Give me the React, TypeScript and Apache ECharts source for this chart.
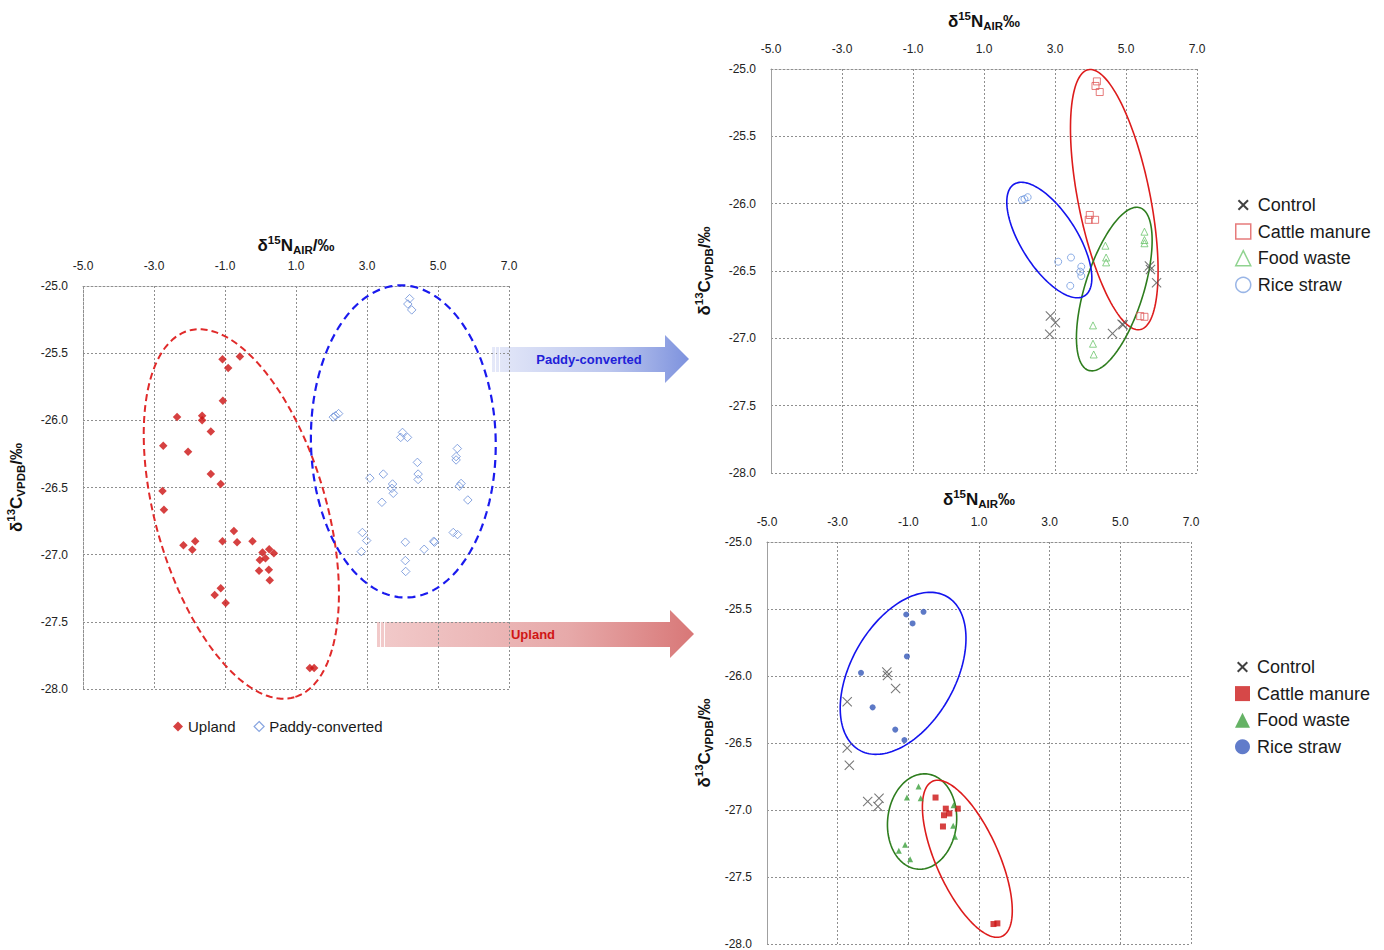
import React, { useEffect, useRef } from "react";
import * as echarts from "echarts";

const FONT = "'Liberation Sans', Arial, Helvetica, sans-serif";

// ---------- Left chart: all samples ----------
const uplandPoints: number[][] = [
  [-1.07, -25.545], [-0.58, -25.525], [-0.91, -25.61], [-1.06, -25.855], [-2.35, -25.976],
  [-1.645, -25.966], [-1.645, -26.0], [-1.4, -26.083], [-2.74, -26.19], [-2.04, -26.234],
  [-1.4, -26.4], [-1.12, -26.474], [-2.76, -26.526], [-2.72, -26.665], [-0.75, -26.823],
  [-2.17, -26.93], [-1.84, -26.9], [-1.92, -26.964], [-1.07, -26.9], [-0.66, -26.907],
  [-0.225, -26.9], [0.056, -26.984], [0.244, -26.96], [0.376, -26.99], [-0.02, -27.04],
  [0.14, -27.026], [-0.04, -27.12], [0.235, -27.113], [0.26, -27.19], [-1.12, -27.25],
  [-1.29, -27.3], [-0.98, -27.36], [1.39, -27.844], [1.51, -27.844],
];
const paddyPoints: number[][] = [
  [4.2, -25.094], [4.15, -25.134], [4.26, -25.178], [2.05, -25.976], [2.11, -25.966],
  [2.2, -25.95], [4.0, -26.09], [3.95, -26.127], [4.14, -26.127], [5.545, -26.21],
  [5.51, -26.27], [5.51, -26.295], [4.42, -26.313], [4.44, -26.4], [4.44, -26.44],
  [3.46, -26.4], [3.08, -26.43], [3.72, -26.474], [3.7, -26.506], [3.74, -26.543],
  [3.42, -26.61], [5.65, -26.47], [5.6, -26.49], [5.84, -26.593], [2.87, -26.835],
  [2.99, -26.895], [2.84, -26.977], [4.08, -26.907], [4.08, -27.044], [4.09, -27.125],
  [4.61, -26.96], [4.9, -26.907], [4.88, -26.9], [5.43, -26.835], [5.55, -26.85],
];

// ---------- Top right chart: paddy-converted by treatment ----------
const ctrlPaddy: number[][] = [
  [2.87, -26.835], [3.01, -26.885], [2.85, -26.97], [4.62, -26.964], [4.92, -26.9],
  [4.89, -26.895], [5.66, -26.463], [5.69, -26.488], [5.86, -26.587],
];
const manurePaddy: number[][] = [
  [4.18, -25.092], [4.14, -25.126], [4.26, -25.171], [3.98, -26.084], [3.95, -26.12],
  [4.13, -26.12], [5.4, -26.835], [5.52, -26.84],
];
const foodPaddy: number[][] = [
  [5.52, -26.208], [5.52, -26.27], [5.52, -26.294], [4.42, -26.312], [4.44, -26.4],
  [4.44, -26.436], [4.07, -26.904], [4.07, -27.04], [4.09, -27.12],
];
const strawPaddy: number[][] = [
  [2.07, -25.972], [2.14, -25.965], [2.23, -25.952], [3.09, -26.431], [3.45, -26.4],
  [3.74, -26.468], [3.71, -26.505], [3.74, -26.537], [3.43, -26.61],
];

// ---------- Bottom right chart: upland by treatment ----------
const ctrlUpland: number[][] = [
  [-1.61, -25.971], [-1.59, -25.996], [-1.36, -26.093], [-2.73, -26.192], [-2.73, -26.537],
  [-2.67, -26.666], [-2.15, -26.937], [-1.83, -26.912], [-1.86, -26.974],
];
const manureUpland: number[][] = [
  [-0.23, -26.907], [0.06, -26.99], [0.16, -27.026], [0.01, -27.039], [0.4, -26.99],
  [-0.02, -27.123], [1.41, -27.851], [1.52, -27.846],
];
const foodUpland: number[][] = [
  [-0.71, -26.825], [-1.04, -26.907], [-0.65, -26.912], [0.28, -26.964], [0.27, -27.118],
  [0.32, -27.2], [-1.09, -27.26], [-1.27, -27.304], [-0.95, -27.367],
];
const strawUpland: number[][] = [
  [-1.06, -25.541], [-0.57, -25.521], [-0.88, -25.608], [-1.04, -25.854], [-2.34, -25.976],
  [-2.01, -26.234], [-1.37, -26.4], [-1.11, -26.478],
];

// Ellipses in data units: [cx, cy, xCos, xSin, yCos, ySin]
// x(t) = cx + xCos*cos t + xSin*sin t ; y(t) = cy + yCos*cos t + ySin*sin t
const ellUpland = [-0.54, -26.697, 1.493, -2.309, -1.364, -0.176];
const ellPaddy = [4.023, -26.157, 2.603, -0.06, 0, 1.162];
const ellManureP = [4.67, -25.97, 0.73, -0.995, -0.965, -0.0525];
const ellFoodP = [4.67, -26.634, 0.7215, 0.785, 0.604, -0.0653];
const ellStrawP = [2.84, -26.27, 0.9955, -0.6665, -0.414, -0.1116];
const ellStrawU = [-1.148, -25.98, 1.2356, 1.2809, 0.5735, -0.1918];
const ellFoodU = [-0.611, -27.086, 0.98, 0, 0.024, 0.355];
const ellManureU = [0.67, -27.364, 0.983, -0.807, -0.5783, -0.0954];

const xName1 = "{m|δ}{sup|15}{m|N}{sub|AIR}{m|/‰}";
const xName2 = "{m|δ}{sup|15}{m|N}{sub|AIR}{m|‰}";
const yName = "{m|δ}{sup|13}{m|C}{sub|VPDB}{m|/‰}";

const CROSS = "path://M0,0.75L0.75,0L5,4.25L9.25,0L10,0.75L5.75,5L10,9.25L9.25,10L5,5.75L0.75,10L0,9.25L4.25,5Z";
const CROSS_ICON =
  "path://M0,0h0.01v0.01h-0.01zM15,15h0.01v0.01h-0.01zM2,3.4L3.4,2L7.5,6.1L11.6,2L13,3.4L8.9,7.5L13,11.6L11.6,13L7.5,8.9L3.4,13L2,11.6L6.1,7.5Z";

const rich = {
  m: { fontSize: 17, fontWeight: "bold", color: "#111", fontFamily: FONT, lineHeight: 22, verticalAlign: "middle" },
  sup: { fontSize: 11.5, fontWeight: "bold", color: "#111", fontFamily: FONT, lineHeight: 13, verticalAlign: "top" },
  sub: { fontSize: 11.5, fontWeight: "bold", color: "#111", fontFamily: FONT, lineHeight: 11, verticalAlign: "bottom" },
};

const gridLine = { color: "#8f8f8f", type: [2, 2] as number[], width: 1 };

function xAxis(gi: number, name: string, gap: number) {
  return {
    gridIndex: gi,
    type: "value",
    position: "top",
    min: -5,
    max: 7,
    interval: 2,
    name,
    nameLocation: "middle",
    nameGap: gap,
    nameTextStyle: { rich },
    axisLine: { show: true, onZero: false, lineStyle: gridLine },
    axisTick: { show: false },
    axisLabel: { formatter: (v: number) => v.toFixed(1), color: "#222", fontSize: 12, fontFamily: FONT, margin: 14 },
    splitLine: { show: true, lineStyle: gridLine },
  };
}

function yAxis(gi: number, gap: number, dotted: boolean) {
  return {
    gridIndex: gi,
    type: "value",
    min: -28,
    max: -25,
    interval: 0.5,
    name: yName,
    nameLocation: "middle",
    nameRotate: 90,
    nameGap: gap,
    nameTextStyle: { rich },
    axisLine: { show: true, onZero: false, lineStyle: dotted ? gridLine : { color: "#a0a0a0", width: 1 } },
    axisTick: { show: false },
    axisLabel: { formatter: (v: number) => v.toFixed(1), color: "#222", fontSize: 12, fontFamily: FONT, margin: 15 },
    splitLine: { show: true, lineStyle: gridLine },
  };
}

function ellipse(params: number[], gi: number, color: string, width: number, dash?: number[]) {
  return {
    type: "custom",
    xAxisIndex: gi,
    yAxisIndex: gi,
    clip: false,
    silent: true,
    z: 2,
    data: [params],
    encode: { x: 0, y: 1 },
    renderItem: (_p: any, api: any) => {
      const cx = api.value(0), cy = api.value(1);
      const a = api.value(2), b = api.value(3), c = api.value(4), d = api.value(5);
      const pts: number[][] = [];
      const N = 160;
      for (let i = 0; i < N; i++) {
        const t = (i / N) * Math.PI * 2;
        pts.push(api.coord([cx + a * Math.cos(t) + b * Math.sin(t), cy + c * Math.cos(t) + d * Math.sin(t)]));
      }
      return {
        type: "polygon",
        shape: { points: pts },
        style: { fill: "none", stroke: color, lineWidth: width, lineDash: dash || null },
      };
    },
  };
}

function scatter(name: string, data: number[][], gi: number, symbol: string, size: number, itemStyle: any) {
  return { type: "scatter", name, data, xAxisIndex: gi, yAxisIndex: gi, symbol, symbolSize: size, itemStyle, z: 3 };
}

const hollow = (c: string) => ({ color: "rgba(255,255,255,0)", borderColor: c, borderWidth: 1 });

export default function App() {
  const ref = useRef<HTMLDivElement>(null);
  useEffect(() => {
    if (!ref.current) return;
    const chart = echarts.init(ref.current, undefined, { renderer: "svg" });
    const legendText = { fontSize: 18, color: "#1a1a1a", fontFamily: FONT, padding: [0, 0, 0, 2] };
    const option: any = {
      animation: false,
      backgroundColor: "#ffffff",
      grid: [
        { left: 83, top: 286, width: 426, height: 403 },
        { left: 771, top: 69, width: 426, height: 404 },
        { left: 767, top: 542, width: 424, height: 403 },
      ],
      xAxis: [xAxis(0, xName1, 30), xAxis(1, xName2, 37), xAxis(2, xName2, 32)],
      yAxis: [yAxis(0, 56, true), yAxis(1, 56, false), yAxis(2, 52, false)],
      legend: [
        {
          orient: "horizontal",
          left: 168,
          top: 714,
          itemWidth: 10,
          itemHeight: 10,
          itemGap: 18,
          selectedMode: false,
          textStyle: { fontSize: 15, color: "#1a1a1a", fontFamily: FONT },
          data: [
            { name: "Upland", icon: "diamond" },
            { name: "Paddy-converted", icon: "diamond", itemStyle: { color: "rgba(255,255,255,0)", borderColor: "#6a8fd8", borderWidth: 1.2 } },
          ],
        },
        {
          orient: "vertical",
          left: 1230,
          top: 191,
          itemWidth: 15,
          itemHeight: 15,
          itemGap: 8.6,
          selectedMode: false,
          textStyle: legendText,
          data: [
            { name: "Control", icon: CROSS_ICON, itemStyle: { color: "#111", borderWidth: 0 } },
            { name: "Cattle manure", icon: "rect", itemStyle: { color: "rgba(255,255,255,0)", borderColor: "#e05a5a", borderWidth: 1.5 } },
            { name: "Food waste", icon: "triangle", itemStyle: { color: "rgba(255,255,255,0)", borderColor: "#74c874", borderWidth: 1.5 } },
            { name: "Rice straw", icon: "circle", itemStyle: { color: "rgba(255,255,255,0)", borderColor: "#7fa3e0", borderWidth: 1.5 } },
          ],
        },
        {
          orient: "vertical",
          left: 1230,
          top: 653,
          itemWidth: 15,
          itemHeight: 15,
          itemGap: 8.6,
          selectedMode: false,
          textStyle: legendText,
          data: [
            { name: "Control", icon: CROSS_ICON, itemStyle: { color: "#111", borderWidth: 0 } },
            { name: "Cattle manure", icon: "rect", itemStyle: { color: "#cc1a1a", borderWidth: 0 } },
            { name: "Food waste", icon: "triangle", itemStyle: { color: "#3f9f3f", borderWidth: 0 } },
            { name: "Rice straw", icon: "circle", itemStyle: { color: "#3a5bbd", borderWidth: 0 } },
          ],
        },
      ],
      graphic: [
        {
          type: "polygon",
          z: 0,
          shape: { points: [[492, 347], [665, 347], [665, 335], [689, 359], [665, 383], [665, 372], [492, 372]] },
          style: {
            fill: new echarts.graphic.LinearGradient(0, 0, 1, 0, [
              { offset: 0, color: "rgba(226,230,248,0.9)" },
              { offset: 0.6, color: "rgba(180,192,236,0.9)" },
              { offset: 1, color: "rgba(118,140,220,0.95)" },
            ]),
          },
        },
        { type: "rect", z: 1, shape: { x: 495, y: 347, width: 1, height: 25 }, style: { fill: "rgba(255,255,255,0.9)" } },
        { type: "rect", z: 1, shape: { x: 499, y: 347, width: 1, height: 25 }, style: { fill: "rgba(255,255,255,0.9)" } },
        {
          type: "text",
          z: 5,
          x: 589,
          y: 359,
          style: { text: "Paddy-converted", fill: "#2121d8", font: `bold 13px ${FONT}`, align: "center", verticalAlign: "middle" },
        },
        {
          type: "polygon",
          z: 0,
          shape: { points: [[377, 622], [670, 622], [670, 610], [694, 634], [670, 658], [670, 647], [377, 647]] },
          style: {
            fill: new echarts.graphic.LinearGradient(0, 0, 1, 0, [
              { offset: 0, color: "rgba(240,196,196,0.9)" },
              { offset: 0.6, color: "rgba(228,160,160,0.9)" },
              { offset: 1, color: "rgba(214,112,112,0.95)" },
            ]),
          },
        },
        { type: "rect", z: 1, shape: { x: 380, y: 622, width: 1, height: 25 }, style: { fill: "rgba(255,255,255,0.9)" } },
        { type: "rect", z: 1, shape: { x: 384, y: 622, width: 1, height: 25 }, style: { fill: "rgba(255,255,255,0.9)" } },
        {
          type: "text",
          z: 5,
          x: 533,
          y: 634,
          style: { text: "Upland", fill: "#d01515", font: `bold 13px ${FONT}`, align: "center", verticalAlign: "middle" },
        },
      ],
      series: [
        ellipse(ellUpland, 0, "#e02a2a", 2, [7, 4]),
        ellipse(ellPaddy, 0, "#1a1aee", 2.2, [8, 5]),
        scatter("Upland", uplandPoints, 0, "diamond", 8.5, { color: "#cc1111" }),
        scatter("Paddy-converted", paddyPoints, 0, "diamond", 8.5, hollow("#6a8fd8")),

        ellipse(ellManureP, 1, "#dd1c1c", 1.6),
        ellipse(ellFoodP, 1, "#2e7d1e", 1.6),
        ellipse(ellStrawP, 1, "#1414ee", 1.6),
        scatter("Control", ctrlPaddy, 1, CROSS, 10, { color: "#555" }),
        scatter("Cattle manure", manurePaddy, 1, "rect", 7, hollow("#e05a5a")),
        scatter("Food waste", foodPaddy, 1, "triangle", 7, hollow("#6cc46c")),
        scatter("Rice straw", strawPaddy, 1, "circle", 7, hollow("#6f98e0")),

        ellipse(ellStrawU, 2, "#1414ee", 1.6),
        ellipse(ellFoodU, 2, "#2e7d1e", 1.6),
        ellipse(ellManureU, 2, "#dd1c1c", 1.6),
        scatter("Control", ctrlUpland, 2, CROSS, 10, { color: "#555" }),
        scatter("Cattle manure", manureUpland, 2, "rect", 6, { color: "#cc1111" }),
        scatter("Food waste", foodUpland, 2, "triangle", 6, { color: "#3ca03c" }),
        scatter("Rice straw", strawUpland, 2, "circle", 6, { color: "#3558b8" }),
      ],
    };
    chart.setOption(option);
    return () => chart.dispose();
  }, []);
  return <div ref={ref} style={{ position: "absolute", left: 0, top: 0, width: 1384, height: 950 }} />;
}
